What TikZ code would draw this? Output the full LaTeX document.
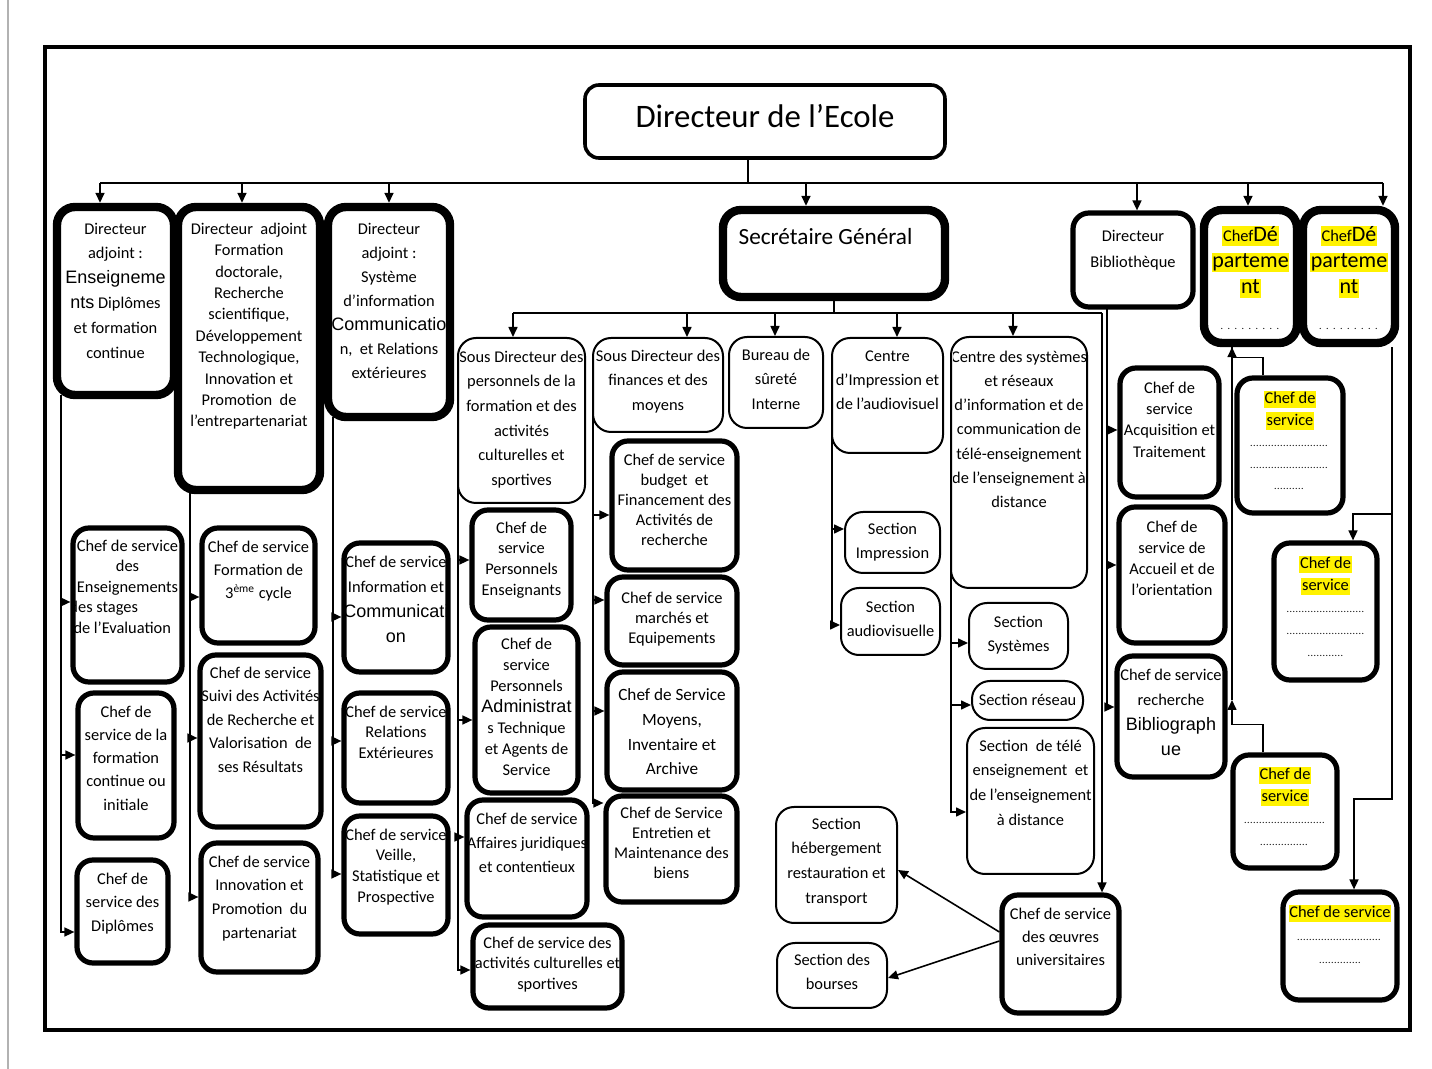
\documentclass[tikz,border=0pt]{standalone}
\usepackage{fontspec}
\setmainfont{Carlito}
\newfontfamily\ar{Liberation Sans}
\usetikzlibrary{arrows.meta,fit}
\newcommand\arb{\ar\fontsize{9}{12}\selectfont}
\newcommand\bigf{\fontsize{11}{13}\selectfont}
\newcommand\hl[1]{{\setlength{\fboxsep}{0.4pt}\colorbox{yellow}{\rule[-0.22em]{0pt}{0.95em}#1}}}
\newcommand\dl[2]{\hbox to #1{\fontsize{5}{5}\selectfont\leaders\hbox to #2{\hss.\hss}\hfill}}
\newcommand\bx[9]{%
  \begin{scope}
    \clip ({#4+2},{#5+2}) rectangle ({#6-2},{#7-2});
    \node[#2, anchor=north] at ({(#4+#6)/2},{#8-6.5}) {#9};
  \end{scope}
  \node[#1, fit={(#4,#5) (#6,#7)}] (#3) {};}
\newcommand\br[3]{\path ([yshift=#3]#2.west) coordinate (tmp); \draw[arr] (#1 |- tmp) -- (tmp);}
\tikzset{
  tx/.style={font=\fontsize{8.2}{#1}\selectfont, align=center, inner sep=0pt},
  vt/.style={draw, line width=4.2pt, rounded corners=9pt, inner sep=0pt},
  tk/.style={draw, line width=2.6pt, rounded corners=8pt, inner sep=0pt},
  tn/.style={draw, line width=1pt, rounded corners=9pt, inner sep=0pt},
  de/.style={draw, line width=1.8pt, rounded corners=7pt, inner sep=0pt},
  ln/.style={draw, line width=0.8pt},
  arr/.style={ln, -{Triangle[length=5pt,width=4.5pt]}},
}
\begin{document}
\begin{tikzpicture}[x=0.5pt,y=-0.5pt]
\useasboundingbox (0,0) rectangle (1432,1069);
\draw[gray!60, line width=0.6pt] (8,0) -- (8,1069);
\draw[line width=2pt] (45,47) rectangle (1410,1030);

% top
\bx{de}{tx=20, font=\fontsize{16.4}{20}\selectfont}{DE}{585}{85}{945}{158}{110}{Directeur de l’Ecole}

% row 1
\bx{vt}{tx=12.4}{B1}{57}{207}{174}{395}{229}{Directeur\\adjoint :\\{\arb Enseigneme}\\{\arb nts} Diplômes\\et formation\\continue}
\bx{vt}{tx=10.7}{B2}{178}{207}{320}{490}{229}{Directeur\ \ adjoint\\Formation\\doctorale,\\Recherche\\scientifique,\\Développement\\Technologique,\\Innovation et\\Promotion\ \ de\\l’entrepartenariat}
\bx{vt}{tx=12}{B3}{328}{207}{450}{417}{229}{Directeur\\adjoint :\\Système\\d’information\\{\arb Communicatio}\\n,\ \ et Relations\\extérieures}
\bx{vt}{tx=14, font=\fontsize{11.6}{14}\selectfont}{SG}{723}{210}{945}{297}{234}{Secrétaire Général\hspace*{8.5pt}}
\bx{tk}{tx=13}{DB}{1073}{213}{1193}{307}{236}{Directeur\\Bibliothèque}
\bx{vt}{tx=13}{K1}{1204}{210}{1297}{343}{232}{\hl{Chef{\bigf Dé}}\\\hl{\bigf parteme}\\\hl{\bigf nt}\\[5pt]\dl{32pt}{3.5pt}}
\bx{vt}{tx=13}{K2}{1303}{210}{1395}{343}{232}{\hl{Chef{\bigf Dé}}\\\hl{\bigf parteme}\\\hl{\bigf nt}\\[5pt]\dl{32pt}{3.5pt}}

% column 1
\bx{tk}{tx=10.25}{C1a}{73}{528}{182}{682}{546}{Chef de service\\des\\Enseignements\\\makebox[52pt][l]{\hspace{-3pt}des stages}\\\makebox[52pt][l]{\hspace{-1pt}de l'Evaluation}}
\bx{tk}{tx=11.6}{C1b}{78}{693}{174}{838}{712}{Chef de\\service de la\\formation\\continue ou\\initiale}
\bx{tk}{tx=11.75}{C1c}{77}{860}{168}{963}{879}{Chef de\\service des\\Diplômes}
% column 2
\bx{tk}{tx=11.5}{C2a}{202}{528}{315}{643}{547}{Chef de service\\Formation de\\3\textsuperscript{ème} cycle}
\bx{tk}{tx=11.75}{C2b}{200}{655}{321}{827}{673}{Chef de service\\Suivi des Activités\\de Recherche et\\Valorisation\ \ de\\ses Résultats}
\bx{tk}{tx=11.85}{C2c}{201}{843}{318}{972}{862}{Chef de service\\Innovation et\\Promotion\ \ du\\partenariat}
% column 3
\bx{tk}{tx=12.5}{C3a}{344}{543}{448}{672}{562}{Chef de service\\Information et\\{\arb Communicati}\\{\arb on}}
\bx{tk}{tx=10.25}{C3b}{344}{693}{448}{803}{712}{Chef de service\\Relations\\Extérieures}
\bx{tk}{tx=10.35}{C3c}{344}{816}{448}{934}{835}{Chef de service\\Veille,\\Statistique et\\Prospective}

% SG row
\bx{tn}{tx=12.3}{D1}{458}{338}{585}{503}{357}{Sous Directeur des\\personnels de la\\formation et des\\activités\\culturelles et\\sportives}
\bx{tn}{tx=12.25}{D2}{593}{338}{723}{432}{356}{Sous Directeur des\\finances et des\\moyens}
\bx{tn}{tx=12.25}{D3}{729}{337}{823}{428}{355}{Bureau de\\sûreté\\Interne}
\bx{tn}{tx=12}{D4}{832}{338}{943}{453}{357}{Centre\\d'Impression et\\de l'audiovisuel}
\bx{tn}{tx=12.1}{D5}{951}{337}{1087}{588}{357}{Centre des systèmes\\et réseaux\\d'information et de\\communication de\\télé-enseignement\\de l’enseignement à\\distance}

% D1 children
\bx{tk}{tx=10.35}{E1a}{472}{510}{571}{620}{528}{Chef de\\service\\Personnels\\Enseignants}
\bx{tk}{tx=10.5}{E1b}{475}{627}{578}{793}{644}{Chef de\\service\\Personnels\\{\arb Administrat}\\s Technique\\et Agents de\\Service}
\bx{tk}{tx=12}{E1c}{467}{800}{587}{917}{819}{Chef de service\\Affaires juridiques\\et contentieux}
\bx{tk}{tx=10.25}{E1d}{473}{925}{622}{1008}{943}{Chef de service des\\activités culturelles et\\sportives}
% D2 children
\bx{tk}{tx=10}{E2a}{612}{441}{737}{570}{460}{Chef de service\\budget\ \ et\\Financement des\\Activités de\\recherche}
\bx{tk}{tx=10}{E2b}{607}{577}{737}{665}{598}{Chef de service\\marchés et\\Equipements}
\bx{tk}{tx=12.35, font=\fontsize{8.6}{12.35}\selectfont}{E2c}{607}{672}{737}{790}{695}{Chef de Service\\Moyens,\\Inventaire et\\Archive}
\bx{tk}{tx=10}{E2d}{606}{796}{737}{902}{813}{Chef de Service\\Entretien et\\Maintenance des\\biens}
% D4 children
\bx{tn}{tx=12}{F1}{845}{512}{940}{573}{529}{Section\\Impression}
\bx{tn}{tx=12}{F2}{841}{588}{940}{655}{607}{Section\\audiovisuelle}
% D5 children
\bx{tn}{tx=12}{G1}{969}{603}{1068}{669}{622}{Section\\Systèmes}
\bx{tn}{tx=12}{G2}{972}{681}{1083}{720}{700}{Section réseau}
\bx{tn}{tx=12.35}{G3}{967}{728}{1094}{874}{746}{Section\ \ de télé\\enseignement\ \ et\\de l’enseignement\\à distance}
% oeuvres
\bx{tk}{tx=11.5}{H}{1002}{895}{1119}{1013}{914}{Chef de service\\des œuvres\\universitaires}
\bx{tn}{tx=12.35}{I1}{776}{807}{897}{923}{824}{Section\\hébergement\\restauration et\\transport}
\bx{tn}{tx=12}{I2}{777}{943}{887}{1008}{960}{Section des\\bourses}
% bibliotheque children
\bx{tk}{tx=10.65}{J1}{1120}{368}{1219}{497}{388}{Chef de\\service\\Acquisition et\\Traitement}
\bx{tk}{tx=10.5}{J2}{1119}{507}{1225}{643}{527}{Chef de\\service de\\Accueil et de\\l’orientation}
\bx{tk}{tx=12.5}{J3}{1117}{656}{1225}{777}{675}{Chef de service\\recherche\\{\arb Bibliograph}\\{\arb ue}}
% departement children
\bx{tk}{tx=10.75}{L1}{1237}{378}{1343}{513}{397}{\hl{Chef de}\\\hl{service}\\\dl{40pt}{1.5pt}\\\dl{40pt}{1.5pt}\\\dl{16pt}{1.5pt}}
\bx{tk}{tx=11}{L2}{1233}{755}{1337}{868}{773}{\hl{Chef de}\\\hl{service}\\\dl{41pt}{1.5pt}\\\dl{25pt}{1.5pt}}
\bx{tk}{tx=11}{M1}{1274}{543}{1377}{680}{562}{\hl{Chef de}\\\hl{service}\\\dl{39pt}{1.5pt}\\\dl{39pt}{1.5pt}\\\dl{18pt}{1.5pt}}
\bx{tk}{tx=11.5}{M2}{1283}{892}{1397}{1000}{911}{\hl{Chef de service}\\\dl{43pt}{1.5pt}\\\dl{21pt}{1.5pt}}

% ---- connectors: top bus
\coordinate (j0) at (748,183);
\coordinate (t1) at (100,183);
\coordinate (t2) at (242,183);
\coordinate (t3) at (389,183);
\coordinate (t4) at (806,183);
\coordinate (t5) at (1137,183);
\coordinate (t6) at (1248,183);
\coordinate (t7) at (1383,183);
\draw[ln] (DE.south -| j0) -- (j0);
\draw[ln] (t1) -- (t7);
\foreach \pa/\pb in {t1/B1,t2/B2,t3/B3,t4/SG,t5/DB,t6/K1,t7/K2}
  \draw[arr] (\pa) -- (\pa |- \pb.north);

% SG bus
\coordinate (s1) at (513,313);
\coordinate (s2) at (687,313);
\coordinate (s3) at (775,313);
\coordinate (s4) at (897,313);
\coordinate (s5) at (1013,313);
\coordinate (s6) at (1102,313);
\draw[ln] (SG.south) -- (SG.south |- s1);
\draw[ln] (s1) -- (s6);
\foreach \pa/\pb in {s1/D1,s2/D2,s3/D3,s4/D4,s5/D5,s6/H}
  \draw[arr] (\pa) -- (\pa |- \pb.north);

% column 1
\coordinate (l1) at (61,395);
\path ([yshift=-10.25pt]C1c.west) coordinate (e1); \draw[arr] (l1) |- (e1);
\br{l1}{C1a}{1.5pt} \br{l1}{C1b}{5.25pt}
% column 2
\coordinate (l2) at (190,490);
\path ([yshift=5.25pt]C2c.west) coordinate (e2); \draw[arr] (l2) |- (e2);
\br{l2}{C2a}{-5.75pt} \br{l2}{C2b}{1.5pt}
% column 3
\coordinate (l3) at (333,417);
\path ([yshift=0.5pt]C3c.west) coordinate (e3); \draw[arr] (l3) |- (e3);
\br{l3}{C3a}{-4.75pt} \br{l3}{C3b}{3.5pt}
% D1
\coordinate (l4) at (458,420);
\path ([yshift=-1.75pt]E1d.west) coordinate (e4); \draw[arr] (l4) |- (e4);
\br{l4}{E1a}{2.5pt} \br{l4}{E1b}{-5pt} \br{l4}{E1c}{10.75pt}
% D2
\coordinate (l5) at (593,385);
\path ([yshift=23pt]E2d.west) coordinate (e5); \draw[arr] (l5) |- (e5);
\br{l5}{E2a}{-4.75pt} \br{l5}{E2b}{10.5pt} \br{l5}{E2c}{10pt}
% D4
\coordinate (l6) at (832,395);
\path ([yshift=-1.75pt]F2.west) coordinate (e6); \draw[arr] (l6) |- (e6);
\br{l6}{F1}{6.75pt}
% D5
\coordinate (l7) at (951,462);
\path ([yshift=-5.5pt]G3.west) coordinate (e7); \draw[arr] (l7) |- (e7);
\br{l7}{G1}{-3.5pt} \br{l7}{G2}{-2.25pt}
% DB
\coordinate (l8) at (1107,307);
\path ([yshift=4.75pt]J3.west) coordinate (e8); \draw[arr] (l8) |- (e8);
\br{l8}{J1}{1.25pt} \br{l8}{J2}{5pt}

% oeuvres
\draw[arr] ([yshift=11pt]H.west) -- ([yshift=-2.5pt]I1.east);
\draw[arr] ([yshift=6.5pt]H.west) -- ([yshift=-1.25pt]I2.east);

% departement 1
\coordinate (k1x) at (1232,0);
\coordinate (l1x) at (1263,0);
\coordinate (k1m) at (1232,700);
\draw[arr] (L1.north -| l1x) -- ++(0,9pt) -| (K1.south -| k1x);
\draw[arr] (L2.north -| l1x) -- ++(0,14pt) -| (k1m);
\draw[ln] (k1m) -- (K1.south -| k1x);
% departement 2
\coordinate (k2x) at (1392,0);
\coordinate (m1b) at (1353,514);
\coordinate (m2b) at (1354,799);
\draw[arr] (K2.south -| k2x) |- (m1b) -- (M1.north -| m1b);
\draw[arr] (K2.south -| k2x) |- (m2b) -- (M2.north -| m2b);
\end{tikzpicture}
\end{document}
